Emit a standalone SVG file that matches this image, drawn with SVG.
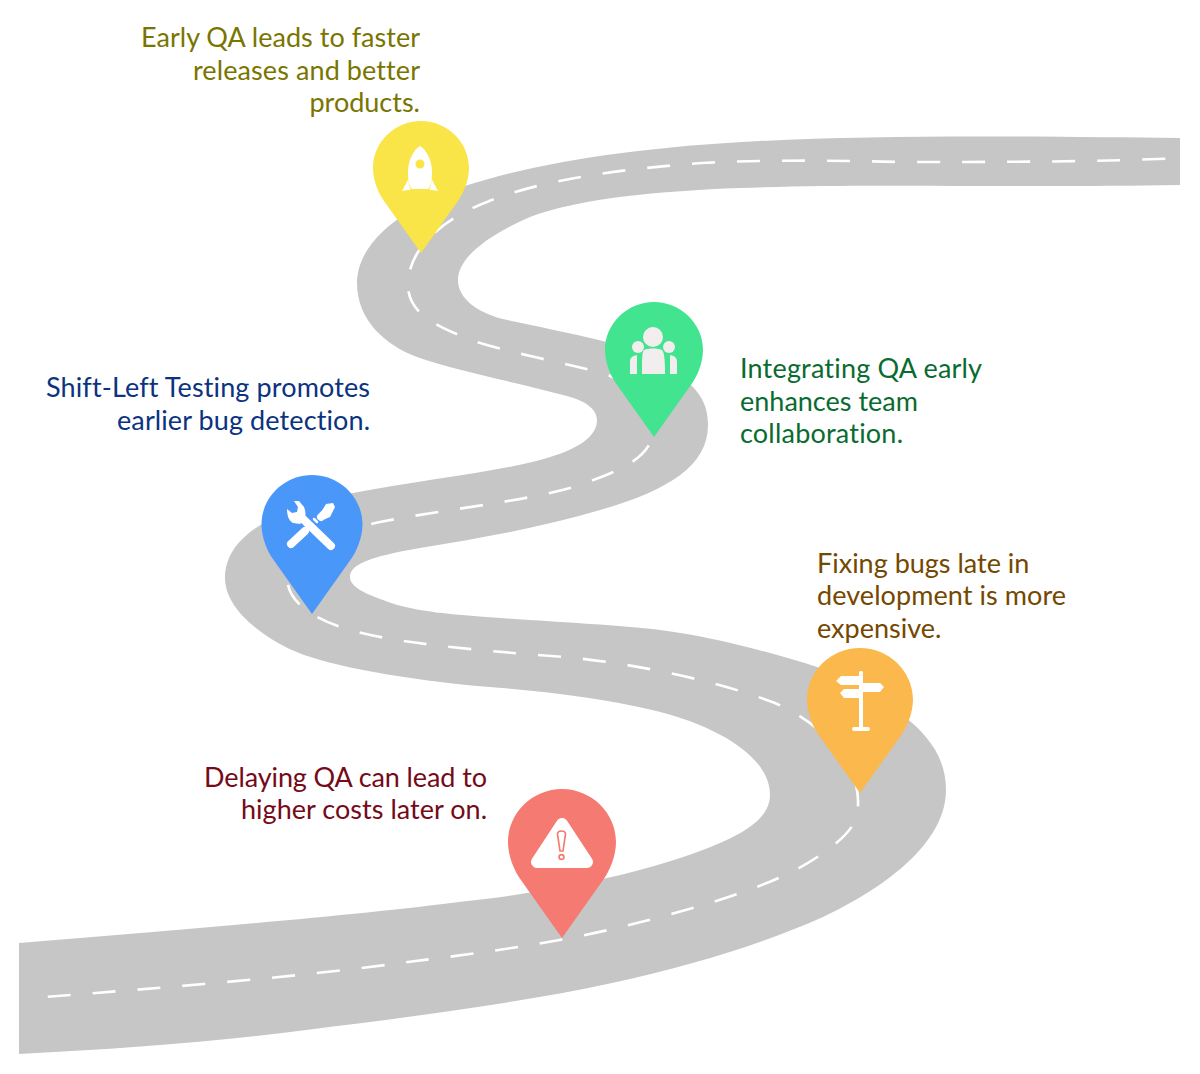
<svg xmlns="http://www.w3.org/2000/svg" width="1200" height="1074" viewBox="0 0 1200 1074">
<style>
.road{fill:#c6c6c6}
.lane{fill:none;stroke:#fff;stroke-width:2.600;stroke-dasharray:23 22;stroke-dashoffset:30}
text{font-family:"Lato","Liberation Sans",sans-serif;font-size:27px;font-variant-ligatures:none}
.end{text-anchor:end}
.w{fill:#fff}
</style>
<defs>
<path id="pin" d="M0 132L-37 80C-42 73 -48 60 -48 47C-48 21 -26 0 0 0C26 0 48 21 48 47C48 60 42 73 37 80Z"/>
</defs>
<g id="connectors">
<path id="road" class="road" d="M1180 138C1060 137 900 134 760 141C640 147 540 162 468 185C420 200 357 235 357 283C357 320 385 345 417 357C460 372 520 383 567 396C590 402 597 412 597 420C597 440 570 452 540 460C490 473 420 480 353 493C290 505 225 530 225 578C225 610 265 640 304 655C345 669 420 682 502 688C560 693 610 700 652 710C705 722 770 752 770 795C770 820 740 836 700 851C650 870 570 890 459 902C360 915 190 929 19 943L19 1054C120 1049 215 1042 306 1030C410 1017 520 1003 612 983C690 966 760 945 823 917C868 896 946 850 946 790C946 755 925 733 905 717C880 697 850 680 817 667C770 652 710 636 660 630C610 624 530 621 462 615C425 612 400 607 383 600C360 592 350 585 350 577C350 565 367 557 420 548C480 538 540 528 600 510C670 490 708 465 708 425C708 405 700 395 693 387C680 373 650 350 607 342C570 333 540 327 507 320C480 314 458 300 458 280C458 255 495 232 530 217C580 198 660 191 740 188C860 183 1000 188 1180 185Z"/>
<path id="lane" class="lane" d="M1180 158C1100 162 1000 162 900 162C820 160 760 160 702 163C620 169 540 180 487 202C440 220 408 250 408 285C408 315 440 328 477 342C515 354 565 363 602 373C635 383 655 410 652 438C645 462 610 475 570 488C520 502 440 510 380 522C320 535 285 555 288 585C292 603 312 618 344 628C385 642 470 650 565 657C640 664 720 682 775 703C825 725 860 765 858 805C860 822 845 838 823 853C780 885 700 907 637 923C560 943 480 953 408 962C300 977 160 988 44 997"/>
</g>
<g id="pin-rocket">
<use href="#pin" transform="translate(421 121)" fill="#f9e547"/>
<path class="w" d="M420 146C426 149 432 160 432 172C432 180 431 186 428 189L412 189C409 186 408 180 408 172C408 160 414 149 420 146Z"/>
<path class="w" d="M408.500 179L402 191L411 189.500C409 187 408.500 183 408.500 179ZM431.500 179L438 191L429 189.500C431 187 431.500 183 431.500 179Z"/>
<circle cx="420" cy="164" r="4.500" fill="#f9e547"/>
</g>
<g id="pin-team">
<use href="#pin" transform="translate(654 302) scale(1.0208 1.0227)" fill="#43e48f"/>
<g fill="#f3eeee">
<circle cx="653" cy="337" r="10"/><circle cx="638" cy="347" r="6"/><circle cx="669" cy="347" r="6"/>
<path d="M644 350C648 348 658 348 662 350C664 352 665 358 665 374L642 374C642 358 642 352 644 350Z"/>
<path d="M630 374L630 362C630 357 633 356 637 355L637 374ZM677 374L677 362C677 357 674 356 670 355L670 374Z"/>
</g>
</g>
<g id="pin-tools">
<use href="#pin" transform="translate(312 475) scale(1.052 1.053)" fill="#4a97fa"/>
<g fill="none" stroke="#fff" stroke-linecap="round">
<path stroke-width="8" d="M303 519L331 546"/>
<path stroke-width="8" d="M291 544L305 531"/>
<path stroke-width="8" d="M321 517L327 511"/>
<path stroke-width="2.500" d="M317 522L314 519"/>
</g>
<path class="w" d="M294 501L299 501L304 507C306 512 306 516 304 520L300 524L293 523C289 521 287 516 287 509L292 513L297 512L298 507Z"/>
<path class="w" d="M326 504L333 503L335 507L330 517L323 520L319 516Z"/>
</g>
<g id="pin-signpost">
<use href="#pin" transform="translate(860 648) scale(1.104 1.098)" fill="#fbb84d"/>
<g class="w">
<rect x="859" y="671" width="4" height="57" rx="1.500"/>
<rect x="852" y="727" width="18" height="4" rx="2"/>
<path d="M859 676L841 676L836 681L841 685L859 685ZM863 683L880 683L884 687L880 692L863 692ZM859 689L844 689L840 693L844 698L859 698Z"/>
</g>
</g>
<g id="pin-warning">
<use href="#pin" transform="translate(562 789) scale(1.125 1.129)" fill="#f57b72"/>
<polygon class="w" stroke="#fff" stroke-width="12" stroke-linejoin="round" points="562,824 537,862 587,862"/>
<path d="M557.500 834C557.500 830 565.500 830 565.500 834L563 851L560 851Z" fill="none" stroke="#f57b72" stroke-width="1.700"/>
<circle cx="561.500" cy="857" r="2.400" fill="none" stroke="#f57b72" stroke-width="1.700"/>
</g>
<g id="label-rocket" fill="#7a7500">
<text class="end" x="420" y="47" textLength="279">Early QA leads to faster</text>
<text class="end" x="420" y="80" textLength="227">releases and better</text>
<text class="end" x="420" y="112">products.</text>
</g>
<g id="label-team" fill="#0a6b30">
<text x="740" y="378" textLength="242">Integrating QA early</text>
<text x="740" y="411">enhances team</text>
<text x="740" y="443" textLength="163">collaboration.</text>
</g>
<g id="label-tools" fill="#0b3380">
<text class="end" x="370" y="397" textLength="324">Shift-Left Testing promotes</text>
<text class="end" x="370" y="430" textLength="253">earlier bug detection.</text>
</g>
<g id="label-signpost" fill="#744800">
<text x="817" y="573">Fixing bugs late in</text>
<text x="817" y="605" textLength="249">development is more</text>
<text x="817" y="638">expensive.</text>
</g>
<g id="label-warning" fill="#750a18">
<text class="end" x="487" y="787" textLength="283">Delaying QA can lead to</text>
<text class="end" x="487" y="819" textLength="246">higher costs later on.</text>
</g>
</svg>
